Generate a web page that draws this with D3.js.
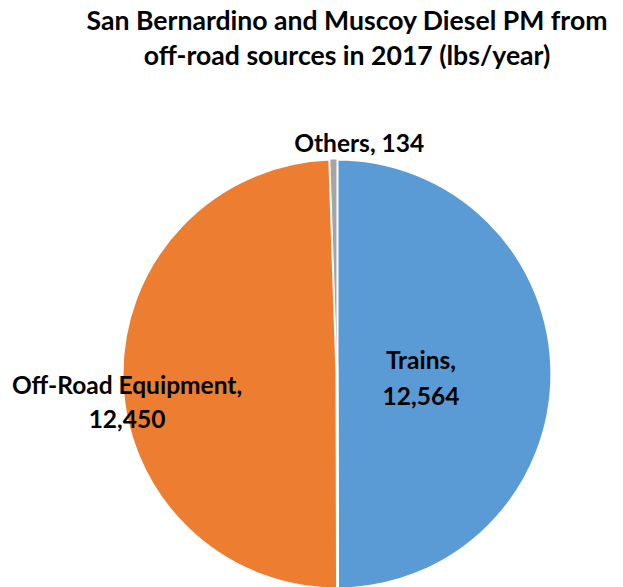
<!DOCTYPE html>
<html>
<head>
<meta charset="utf-8">
<script src="https://cdn.jsdelivr.net/npm/d3@7"></script>
<style>
  body { margin: 0; background: #fff; }
  svg { display: block; }
  text { font-family: Lato, "Open Sans", sans-serif; font-weight: bold; fill: #000; }
</style>
</head>
<body>
<div id="chart"></div>
<script>
// Data
const categories = ["Trains", "Off-Road Equipment", "Others"];
const values = [12564, 12450, 134];
const colors = ["#5B9BD5", "#ED7D31", "#A5A5A5"];
const titleLines = ["San Bernardino and Muscoy Diesel PM from", "off-road sources in 2017 (lbs/year)"];

const width = 623, height = 587;
const cx = 337, cy = 374, radius = 215;

const svg = d3.select("#chart")
              .append("svg")
              .attr("width", width)
              .attr("height", height);

// Title
svg.append("g")
   .selectAll("text")
   .data(titleLines)
   .enter()
   .append("text")
   .attr("x", 347)
   .attr("y", (d, i) => 30 + i * 35)
   .attr("text-anchor", "middle")
   .style("font-size", "26.6px")
   .text(d => d);

const data = categories.map((c, i) => ({name: c, value: values[i], color: colors[i]}));

const pie = d3.pie()
              .sort(null)
              .value(d => d.value);

const arc = d3.arc()
              .innerRadius(0)
              .outerRadius(radius);

const g = svg.append("g")
             .attr("transform", `translate(${cx},${cy})`);

const arcs = pie(data);

// big slices get a wide white edge, the tiny one a thin edge so it stays visible
g.selectAll("path")
 .data(arcs)
 .enter()
 .append("path")
 .attr("d", arc)
 .attr("fill", d => d.data.color)
 .attr("stroke", "#fff")
 .attr("stroke-width", d => d.data.value < 1000 ? 1 : 3)
 .attr("stroke-linejoin", "round");

// Label placement (radius from center along mid angle, plus nudges)
const labelPos = [
  {r: 84, dx: 0, dy: 5, gap: 36, lines: d => [d.data.name + ",", d3.format(",")(d.data.value)]},
  {r: 212, dx: 2, dy: 25, gap: 34, lines: d => [d.data.name + ",", d3.format(",")(d.data.value)]},
  {r: 226, dx: 26, dy: -4, gap: 0, lines: d => [d.data.name + ", " + d3.format(",")(d.data.value)]}
];

arcs.forEach((d, i) => {
  const mid = (d.startAngle + d.endAngle) / 2;
  const p = labelPos[i];
  const x = Math.sin(mid) * p.r + p.dx;
  const y = -Math.cos(mid) * p.r + p.dy;
  const lines = p.lines(d);
  const t = g.append("text")
             .attr("text-anchor", "middle")
             .style("font-size", "24.5px");
  lines.forEach((s, j) => {
    t.append("tspan")
     .attr("x", x)
     .attr("y", y + (j - (lines.length - 1) / 2) * p.gap + 8)
     .text(s);
  });
});
</script>
</body>
</html>
